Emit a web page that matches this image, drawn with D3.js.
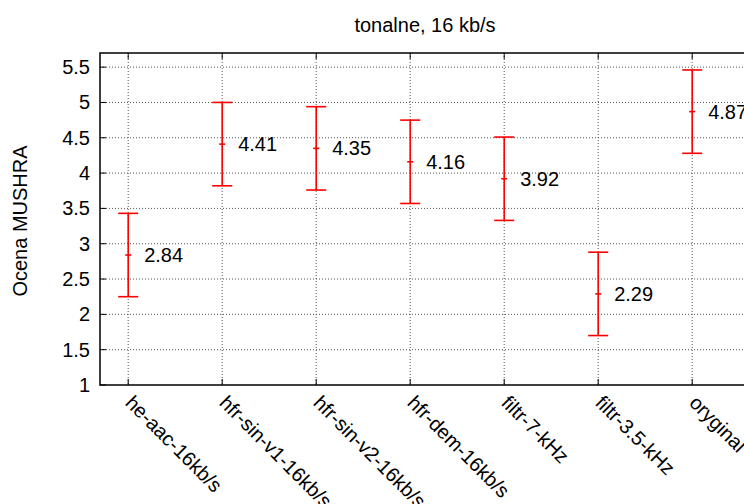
<!DOCTYPE html>
<html>
<head>
<meta charset="utf-8">
<script src="https://cdn.jsdelivr.net/npm/d3@7"></script>
<style>
  body { margin: 0; background: #fff; overflow: hidden; }
  text { font-family: "Liberation Sans", Arial, sans-serif; }
</style>
</head>
<body>
<script>
// data
var categories = ["he-aac-16kb/s", "hfr-sin-v1-16kb/s", "hfr-sin-v2-16kb/s", "hfr-dem-16kb/s", "filtr-7-kHz", "filtr-3.5-kHz", "oryginal"];
var means = [2.84, 4.41, 4.35, 4.16, 3.92, 2.29, 4.87];
var lower = [2.25, 3.82, 3.76, 3.57, 3.33, 1.70, 4.28];
var upper = [3.43, 5.00, 4.94, 4.75, 4.51, 2.88, 5.46];
var yTicks = [1, 1.5, 2, 2.5, 3, 3.5, 4, 4.5, 5, 5.5];

var w = 744, h = 504;
// the plot frame runs past the right edge of the picture
var pLeft = 100, pRight = 750, pTop = 53, pBottom = 385;
var fs = 20;

var svg = d3.select("body").append("svg")
  .attr("width", w)
  .attr("height", h);

var x = d3.scaleLinear().domain([-0.3, 6.615]).range([pLeft, pRight]);
var y = d3.scaleLinear().domain([1, 5.7]).range([pBottom, pTop]);

//GRID
svg.append("g").selectAll("line")
  .data(yTicks.slice(1))
  .join("line")
  .attr("x1", pLeft).attr("x2", pRight)
  .attr("y1", function(d){ return y(d); }).attr("y2", function(d){ return y(d); })
  .attr("stroke", "#555").attr("stroke-width", 1).attr("stroke-dasharray", "1,2");

svg.append("g").selectAll("line")
  .data(categories)
  .join("line")
  .attr("x1", function(d,i){ return x(i); }).attr("x2", function(d,i){ return x(i); })
  .attr("y1", pTop).attr("y2", pBottom)
  .attr("stroke", "#555").attr("stroke-width", 1).attr("stroke-dasharray", "1,2");

//TICKS (inward, mirrored)
var tk = 6;
var tg = svg.append("g").attr("stroke", "#000").attr("stroke-width", 1);
yTicks.forEach(function(d){
  tg.append("line").attr("x1", pLeft).attr("x2", pLeft + tk).attr("y1", y(d)).attr("y2", y(d));
  tg.append("line").attr("x1", pRight).attr("x2", pRight - tk).attr("y1", y(d)).attr("y2", y(d));
});
categories.forEach(function(d,i){
  tg.append("line").attr("x1", x(i)).attr("x2", x(i)).attr("y1", pBottom).attr("y2", pBottom - tk);
  tg.append("line").attr("x1", x(i)).attr("x2", x(i)).attr("y1", pTop).attr("y2", pTop + tk);
});

//BORDER
svg.append("rect")
  .attr("x", pLeft).attr("y", pTop)
  .attr("width", pRight - pLeft).attr("height", pBottom - pTop)
  .attr("fill", "none").attr("stroke", "#000").attr("stroke-width", 1.5);

//Y LABELS
svg.append("g").selectAll("text")
  .data(yTicks)
  .join("text")
  .attr("x", pLeft - 10)
  .attr("y", function(d){ return y(d); })
  .attr("dy", "0.35em")
  .attr("text-anchor", "end")
  .attr("font-size", fs)
  .text(function(d){ return d; });

//X LABELS
svg.append("g").selectAll("text")
  .data(categories)
  .join("text")
  .attr("transform", function(d,i){ return "translate(" + (x(i) - 4) + "," + (pBottom + 19) + ") rotate(45)"; })
  .attr("text-anchor", "start")
  .attr("font-size", fs)
  .text(function(d){ return d; });

//ERROR BARS
var cap = 10;
var eb = svg.append("g").attr("stroke", "#f00").attr("stroke-width", 1.6);
categories.forEach(function(d,i){
  var cx = x(i);
  eb.append("line").attr("x1", cx).attr("x2", cx).attr("y1", y(lower[i])).attr("y2", y(upper[i]));
  eb.append("line").attr("x1", cx - cap).attr("x2", cx + cap).attr("y1", y(lower[i])).attr("y2", y(lower[i]));
  eb.append("line").attr("x1", cx - cap).attr("x2", cx + cap).attr("y1", y(upper[i])).attr("y2", y(upper[i]));
  eb.append("line").attr("x1", cx - 3).attr("x2", cx + 3).attr("y1", y(means[i])).attr("y2", y(means[i]));
});

//VALUE LABELS
svg.append("g").selectAll("text")
  .data(means)
  .join("text")
  .attr("x", function(d,i){ return x(i) + 16; })
  .attr("y", function(d){ return y(d); })
  .attr("dy", "0.35em")
  .attr("font-size", fs)
  .text(function(d){ return d.toFixed(2); });

//TITLE + AXIS TITLE
svg.append("text")
  .attr("x", (pLeft + pRight) / 2).attr("y", 32)
  .attr("text-anchor", "middle").attr("font-size", fs)
  .text("tonalne, 16 kb/s");

svg.append("text")
  .attr("transform", "translate(27," + ((pTop + pBottom) / 2 + 2) + ") rotate(-90)")
  .attr("text-anchor", "middle").attr("font-size", fs)
  .text("Ocena MUSHRA");
</script>
</body>
</html>
